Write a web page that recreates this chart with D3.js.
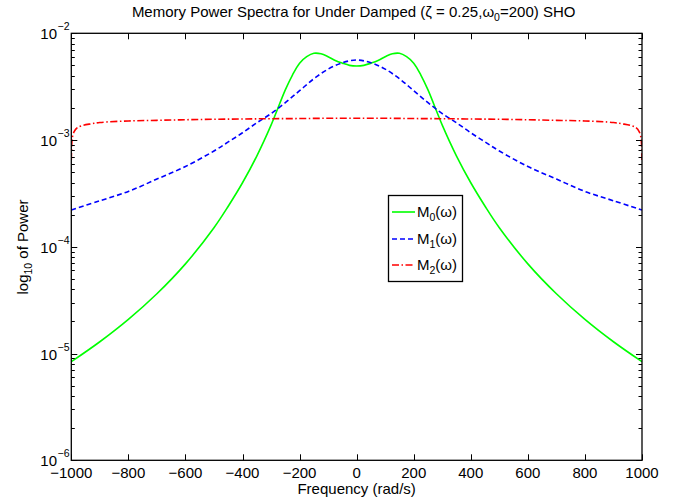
<!DOCTYPE html>
<html><head><meta charset="utf-8">
<script src="https://cdn.jsdelivr.net/npm/d3@7"></script>
<style>
body{margin:0;background:#fff}
text{font-family:"Liberation Sans",Arial,Helvetica,sans-serif;fill:#000}
</style>
</head><body>
<svg id="c" width="681" height="500"></svg>
<script>
// ---- data ----
const m0Freq = [-1000,-900,-800,-700,-600,-500,-450,-400,-350,-300,-250,-225,-200,-175,-150,-125,-100,-75,-50,-25,0,25,50,75,100,125,150,175,200,225,250,300,350,400,450,500,600,700,800,900,1000];
const m0Vals = [8.39e-6,1.29e-5,2.09e-5,3.63e-5,6.92e-5,1.51e-4,2.40e-4,3.98e-4,7.08e-4,1.38e-3,2.95e-3,4.06e-3,5.25e-3,6.04e-3,6.50e-3,6.43e-3,6.03e-3,5.56e-3,5.25e-3,5.01e-3,4.94e-3,5.01e-3,5.25e-3,5.56e-3,6.03e-3,6.43e-3,6.50e-3,6.04e-3,5.25e-3,4.06e-3,2.95e-3,1.38e-3,7.08e-4,3.98e-4,2.40e-4,1.51e-4,6.92e-5,3.63e-5,2.09e-5,1.29e-5,8.39e-6];

const m1Freq = [-1000,-900,-800,-700,-600,-500,-450,-400,-350,-300,-250,-200,-150,-100,-50,0,50,100,150,200,250,300,350,400,450,500,600,700,800,900,1000];
const m1Vals = [2.21e-4,2.70e-4,3.30e-4,4.31e-4,5.65e-4,7.90e-4,9.60e-4,1.17e-3,1.45e-3,1.77e-3,2.24e-3,2.90e-3,3.75e-3,4.62e-3,5.30e-3,5.62e-3,5.30e-3,4.62e-3,3.75e-3,2.90e-3,2.24e-3,1.77e-3,1.45e-3,1.17e-3,9.60e-4,7.90e-4,5.65e-4,4.31e-4,3.30e-4,2.70e-4,2.21e-4];

const m2Freq = [-1000,-998,-995,-990,-980,-960,-930,-900,-800,-700,-600,-500,-400,-300,-200,-100,0,100,200,300,400,500,600,700,800,900,930,960,980,990,995,998,1000];
const m2Vals = [6.5e-4,9.5e-4,1.10e-3,1.20e-3,1.30e-3,1.37e-3,1.42e-3,1.46e-3,1.51e-3,1.53e-3,1.55e-3,1.565e-3,1.575e-3,1.585e-3,1.59e-3,1.60e-3,1.60e-3,1.60e-3,1.59e-3,1.585e-3,1.575e-3,1.565e-3,1.55e-3,1.53e-3,1.51e-3,1.46e-3,1.42e-3,1.37e-3,1.30e-3,1.20e-3,1.10e-3,9.5e-4,6.5e-4];

const xTicks = [-1000,-800,-600,-400,-200,0,200,400,600,800,1000];
const yExps = [-6,-5,-4,-3,-2];

const titleMain = "Memory Power Spectra for Under Damped (\u03B6 = 0.25,\u03C9";
const titleSub = "0";
const titleEnd = "=200) SHO";
const xLabel = "Frequency (rad/s)";
const legendNames = ["M","M","M"];
const legendSubs = ["0","1","2"];

// ---- layout ----
const svg = d3.select("#c");
const L=71.3, R=642, T=33.3, B=460.3;
const x = d3.scaleLinear().domain([-1000,1000]).range([L,R]);
const y = d3.scaleLog().domain([1e-6,1e-2]).range([B,T]);
const FS = 15;

svg.append("defs").append("clipPath").attr("id","pc").append("rect")
  .attr("x",L).attr("y",T).attr("width",R-L).attr("height",B-T);

const series = [
  {f:m0Freq, v:m0Vals, color:"#00ff00", dash:null},
  {f:m1Freq, v:m1Vals, color:"#0000ff", dash:"5,3"},
  {f:m2Freq, v:m2Vals, color:"#ff0000", dash:"7,2.5,1.5,2.5"}
];
const line = d3.line().x(d=>x(d[0])).y(d=>y(d[1])).curve(d3.curveCatmullRom.alpha(0.5));
const gL = svg.append("g").attr("clip-path","url(#pc)");
series.forEach(s=>{
  gL.append("path").datum(s.f.map((f,i)=>[f,s.v[i]]))
    .attr("d",line).attr("fill","none").attr("stroke",s.color)
    .attr("stroke-width",1.6).attr("stroke-dasharray",s.dash);
});

// ticks (inward, all four sides)
const tk = svg.append("g").attr("stroke","#000").attr("stroke-width",1);
xTicks.forEach(t=>{
  const px = Math.round(x(t))+0.5;
  tk.append("line").attr("x1",px).attr("x2",px).attr("y1",B).attr("y2",B-6);
  tk.append("line").attr("x1",px).attr("x2",px).attr("y1",T).attr("y2",T+6);
});
y.ticks().forEach(t=>{
  const major = Math.abs(Math.log10(t)-Math.round(Math.log10(t)))<1e-9;
  const len = major?6:3.5;
  const py = Math.round(y(t))+0.5;
  tk.append("line").attr("x1",L).attr("x2",L+len).attr("y1",py).attr("y2",py);
  tk.append("line").attr("x1",R).attr("x2",R-len).attr("y1",py).attr("y2",py);
});
svg.append("rect").attr("x",L).attr("y",T).attr("width",R-L).attr("height",B-T)
  .attr("fill","none").attr("stroke","#000").attr("stroke-width",1.3);

// x tick labels
const fmt = d3.format("");
xTicks.forEach(t=>{
  svg.append("text").attr("x",x(t)).attr("y",478).attr("text-anchor","middle")
    .attr("font-size",FS).text(fmt(t));
});
// y tick labels (10 with superscript exponent)
yExps.forEach(e=>{
  const py = y(Math.pow(10,e));
  svg.append("text").attr("x",57).attr("y",py+6).attr("text-anchor","end").attr("font-size",FS).text("10");
  svg.append("text").attr("x",57.5).attr("y",py-3).attr("text-anchor","start").attr("font-size",10.5).text(fmt(e));
});

// title
const tt = svg.append("text").attr("x",(L+R)/2-3).attr("y",17).attr("text-anchor","middle").attr("font-size",FS);
tt.append("tspan").text(titleMain);
tt.append("tspan").attr("font-size",10.5).attr("dy",4).text(titleSub);
tt.append("tspan").attr("dy",-4).text(titleEnd);

// x label
svg.append("text").attr("x",(L+R)/2).attr("y",494).attr("text-anchor","middle").attr("font-size",FS).text(xLabel);

// y label
const yl = svg.append("text").attr("transform","translate(28,247) rotate(-90)").attr("text-anchor","middle").attr("font-size",FS);
yl.append("tspan").text("log");
yl.append("tspan").attr("font-size",10.5).attr("dy",4).text("10");
yl.append("tspan").attr("dy",-4).text(" of Power");

// legend
const lg = svg.append("g");
lg.append("rect").attr("x",388.5).attr("y",195.5).attr("width",74).attr("height",86)
  .attr("fill","#fff").attr("stroke","#000").attr("stroke-width",1.3);
const rowsY = [212,239,265];
series.forEach((s,i)=>{
  lg.append("line").attr("x1",392).attr("x2",415).attr("y1",rowsY[i]).attr("y2",rowsY[i])
    .attr("stroke",s.color).attr("stroke-width",1.6).attr("stroke-dasharray",s.dash);
  const t = lg.append("text").attr("x",417).attr("y",rowsY[i]+5).attr("font-size",FS);
  t.append("tspan").text(legendNames[i]);
  t.append("tspan").attr("font-size",10.5).attr("dy",4).text(legendSubs[i]);
  t.append("tspan").attr("dy",-4).text("(\u03C9)");
});
</script>
</body></html>
